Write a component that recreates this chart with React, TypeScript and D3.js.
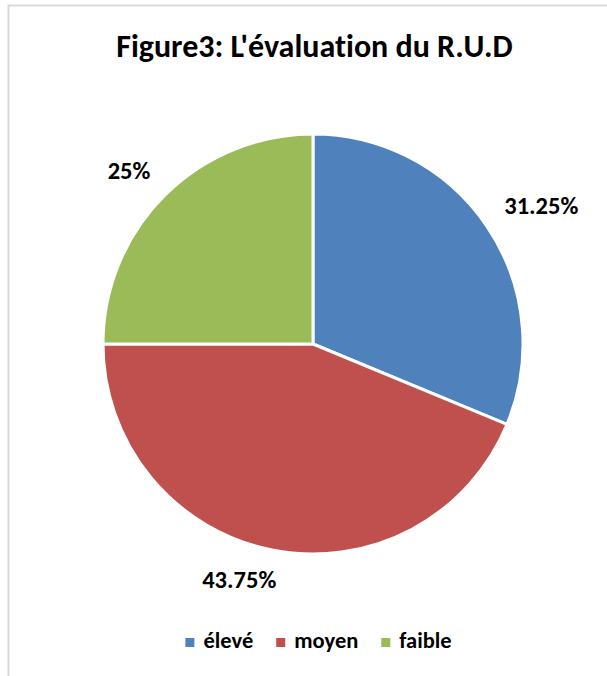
import React, { useEffect, useRef } from "react";
import * as d3 from "d3";

const categories = ["élevé", "moyen", "faible"];
const values = [31.25, 43.75, 25];
const labels = ["31.25%", "43.75%", "25%"];
const colors = ["#4f81bd", "#c0504d", "#9bbb59"];
const title = "Figure3: L'évaluation du R.U.D";

const W = 607;
const H = 676;
const FONT = "Carlito, Calibri, Lato, sans-serif";

export default function App() {
  const ref = useRef<SVGSVGElement | null>(null);

  useEffect(() => {
    const svg = d3.select(ref.current);
    svg.selectAll("*").remove();

    svg
      .append("rect")
      .attr("x", 8.5)
      .attr("y", 5.5)
      .attr("width", 620)
      .attr("height", 700)
      .attr("fill", "#fff")
      .attr("stroke", "#d9d9d9")
      .attr("stroke-width", 2);

    svg
      .append("text")
      .attr("x", 314.5)
      .attr("y", 57)
      .attr("text-anchor", "middle")
      .attr("font-family", FONT)
      .attr("font-weight", 700)
      .attr("font-size", 32)
      .style("font-variant-ligatures", "none")
      .attr("fill", "#000")
      .text(title);

    const cx = 313;
    const cy = 344;
    const r = 210;

    const data = categories.map((c, i) => ({ c, v: values[i], label: labels[i], color: colors[i] }));
    const pie = d3
      .pie<any>()
      .sort(null)
      .value((d) => d.v)
      .startAngle(0)
      .endAngle(2 * Math.PI);
    const arcs = pie(data);
    const arc = d3.arc<any>().innerRadius(0).outerRadius(r);

    const g = svg.append("g").attr("transform", `translate(${cx},${cy})`);
    g.selectAll("path")
      .data(arcs)
      .join("path")
      .attr("d", arc)
      .attr("fill", (d) => d.data.color)
      .attr("stroke", "#fff")
      .attr("stroke-width", 3)
      .attr("stroke-linejoin", "round");

    const gap = 20;
    arcs.forEach((a) => {
      const mid = (a.startAngle + a.endAngle) / 2;
      const dx = Math.sin(mid);
      const dy = -Math.cos(mid);
      const t = g
        .append("text")
        .attr("text-anchor", "middle")
        .attr("dominant-baseline", "central")
        .attr("font-family", FONT)
        .attr("font-weight", 700)
        .attr("font-size", 24.5)
        .attr("fill", "#000")
        .text(a.data.label);
      const w = (t.node() as SVGTextElement).getComputedTextLength();
      const hw = w / 2;
      const hh = 10;
      const px = dx * (r + gap) + hw * Math.sign(dx) * Math.min(1, Math.abs(dx) * 4);
      const py = dy * (r + gap) + hh * Math.sign(dy);
      t.attr("x", px).attr("y", py);
    });

    const lg = svg.append("g");
    const sq = 9;
    const gapText = 9;
    const itemGap = 23;
    let x = 0;
    data.forEach((d) => {
      const it = lg.append("g");
      it.append("rect").attr("x", x).attr("y", -10).attr("width", sq).attr("height", sq).attr("fill", d.color);
      const t = it
        .append("text")
        .attr("x", x + sq + gapText)
        .attr("y", 0)
        .attr("font-family", FONT)
        .attr("font-weight", 700)
        .attr("font-size", 22.5)
        .attr("fill", "#000")
        .text(d.c);
      const w = (t.node() as SVGTextElement).getComputedTextLength();
      x += sq + gapText + w + itemGap;
    });
    const total = x - itemGap;
    lg.attr("transform", `translate(${318.5 - total / 2},${648})`);
  }, []);

  return (
    <svg
      ref={ref}
      width={W}
      height={H}
      style={{ position: "absolute", left: 0, top: 0, background: "#fff" }}
    />
  );
}
